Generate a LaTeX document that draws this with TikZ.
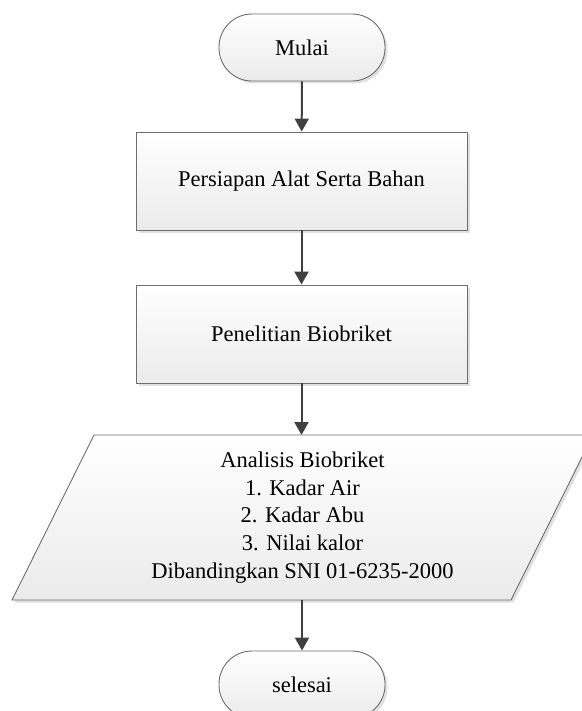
\documentclass[tikz,border=0pt]{standalone}
\usepackage{fontspec}
\setmainfont{Liberation Serif}
\usetikzlibrary{shapes.geometric,shadows,arrows.meta,backgrounds}
\definecolor{edgec}{HTML}{6E6E6E}
\definecolor{arrowc}{HTML}{404040}
\tikzset{
 skin/.style={draw=edgec, line width=0.9pt, top color=white, bottom color=black!8,
   drop shadow={shadow xshift=2.5pt, shadow yshift=-2.5pt, fill=black!12, opacity=1}},
 txt/.style={font=\fontsize{22.5}{27.7}\selectfont, align=center},
 term/.style={skin, txt, rectangle, rounded corners=33pt, minimum width=166pt, minimum height=67pt},
 proc/.style={skin, txt, rectangle, minimum width=331pt, minimum height=98pt},
 io/.style={txt, rectangle, minimum width=499pt, minimum height=165pt, inner sep=0pt, outer sep=0pt},
 arr/.style={draw=arrowc, line width=2pt, -{Triangle[length=13pt,width=14pt]}}
}
\begin{document}
\begin{tikzpicture}[x=1pt,y=-1pt]
\useasboundingbox (0,0) rectangle (581,711);
\clip (0,0) rectangle (581,711);
\node[term] (start) at (302,47.5) {Mulai};
\node[proc] (p1) at (301.5,181) {Persiapan Alat Serta Bahan};
\node[proc] (p2) at (301.5,334) {Penelitian Biobriket};
\node[io] (io) at (302.5,517.5) {Analisis Biobriket\\1. Kadar Air\\2. Kadar Abu\\3. Nilai kalor\\Dibandingkan SNI 01-6235-2000};
\begin{scope}[on background layer]
\path[skin] ([xshift=-41pt]io.south west) -- ([xshift=41pt]io.north west)
  -- ([xshift=41pt]io.north east) -- ([xshift=-41pt]io.south east) -- cycle;
\end{scope}
\node[term] (end) at (302,684.5) {selesai};
\draw[arr] (start) -- (p1);
\draw[arr] (p1) -- (p2);
\draw[arr] (p2.south) -- (p2.south |- io.north);
\draw[arr] (io.south -| end.north) -- (end.north);
\end{tikzpicture}
\end{document}
